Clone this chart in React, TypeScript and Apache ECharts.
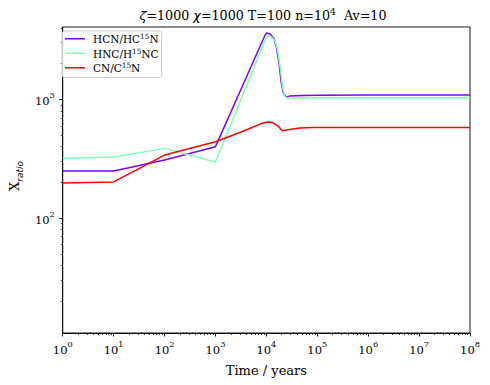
import React, { useEffect, useRef } from "react";
import * as echarts from "echarts";

// ---- data ----
const hcnTimes = [1, 10, 100, 1000, 9397, 10090, 12020, 14030, 15740, 17780, 19680, 21880, 24550, 28580, 51760, 1e5, 1e6, 1e7, 1e8];
const hcnValues = [250, 250, 309, 400, 3470, 3630, 3540, 3260, 2760, 2000, 1360, 1110, 1050, 1066, 1080, 1085, 1087, 1087, 1087];

const hncTimes = [1, 10, 100, 1000, 9772, 10720, 12590, 14790, 16600, 18620, 20650, 22910, 25700, 31620, 1e5, 1e6, 1e7, 1e8];
const hncValues = [319, 327, 387, 297, 3280, 3450, 3360, 3100, 2600, 1880, 1290, 1060, 1025, 1030, 1032, 1032, 1032, 1032];

const cnTimes = [1, 10, 100, 1000, 3573, 7516, 10090, 13580, 16980, 20420, 24550, 44670, 80720, 1e6, 1e7, 1e8];
const cnValues = [198, 202, 340, 440, 542, 620, 644, 635, 597, 545, 552, 574, 580, 580, 580, 580];

const seriesNames = ["HCN/HC15N", "HNC/H15NC", "CN/C15N"];
const seriesLegend = ["{n|HCN/HC}{s|15}{n|N}", "{n|HNC/H}{s|15}{n|NC}", "{n|CN/C}{s|15}{n|N}"];
const seriesColors = ["#8000ff", "#80ffb4", "#ff0000"];

const titleText = "{g|ζ}{t|=1000 }{g|χ}{t|=1000 T=100 n=10}{s|4}{t|  Av=10}";

const xMin = 1;
const xMax = 1e8;
const yMin = 10.8;
const yMax = 4070;
const xMajorExps = [0, 1, 2, 3, 4, 5, 6, 7, 8];
const yMajorExps = [2, 3];

const SERIF = "'DejaVu Serif', serif";
const SANS = "'DejaVu Sans', sans-serif";

const lg = (v: number) => Math.log10(v);

function minorTicks(lo: number, hi: number): number[] {
  const out: number[] = [];
  for (let e = Math.floor(lg(lo)) - 1; e <= Math.ceil(lg(hi)); e++) {
    for (let k = 2; k <= 9; k++) {
      const v = k * Math.pow(10, e);
      if (v > lo && v < hi) out.push(lg(v));
    }
  }
  return out;
}

const supRich = {
  b: { fontSize: 11.5, fontFamily: SERIF, fontWeight: "normal", color: "#000", padding: [4, 0, 0, 0], verticalAlign: "bottom" },
  s: { fontSize: 8.2, fontFamily: SERIF, fontWeight: "normal", color: "#000", verticalAlign: "top" },
};

export default function App() {
  const ref = useRef<HTMLDivElement>(null);
  useEffect(() => {
    if (!ref.current) return;
    const chart = echarts.init(ref.current, null, { renderer: "svg" });
    const all = [
      [hcnTimes, hcnValues],
      [hncTimes, hncValues],
      [cnTimes, cnValues],
    ];
    const xRange = [lg(xMin), lg(xMax)];
    const yRange = [lg(yMin), lg(yMax)];
    const option: any = {
      animation: false,
      backgroundColor: "#fff",
      graphic: [
        {
          type: "text",
          x: 263,
          y: 7,
          z: 100,
          style: {
            text: titleText,
            align: "center",
            verticalAlign: "top",
            rich: {
              t: { fontSize: 12.7, fontFamily: SERIF, fill: "#000", color: "#000", padding: [2, 0, 0, 0], verticalAlign: "bottom" },
              g: { fontSize: 12.7, fontFamily: SANS, fontStyle: "italic", fill: "#000", color: "#000", padding: [2, 0, 0, 0], verticalAlign: "bottom" },
              s: { fontSize: 9, fontFamily: SERIF, fill: "#000", color: "#000", verticalAlign: "top" },
            },
          },
        },
      ],
      grid: { left: 56, right: 20, top: 27, bottom: 52, show: true, borderColor: "#000", borderWidth: 0.9, backgroundColor: "transparent" },
      legend: {
        orient: "vertical",
        left: 62,
        top: 31,
        padding: [2, 3, 4, 3],
        icon: "rect",
        itemWidth: 20,
        itemHeight: 1.5,
        itemGap: 3,
        backgroundColor: "rgba(255,255,255,0.8)",
        borderColor: "#cccccc",
        borderWidth: 1,
        borderRadius: 3,
        data: seriesNames,
        formatter: (name: string) => seriesLegend[seriesNames.indexOf(name)],
        textStyle: {
          padding: [0, 0, 0, 3],
          rich: {
            n: { fontSize: 10.5, fontFamily: SERIF, color: "#000", padding: [0.5, 0, 0, 0], verticalAlign: "bottom" },
            s: { fontSize: 7.3, fontFamily: SERIF, color: "#000", verticalAlign: "top" },
          },
        },
      },
      xAxis: [
        {
          type: "value",
          min: xRange[0],
          max: xRange[1],
          name: "Time / years",
          nameLocation: "middle",
          nameGap: 31,
          nameTextStyle: { fontFamily: SERIF, fontSize: 13, color: "#000", verticalAlign: "top" },
          axisLine: { show: true, lineStyle: { color: "#000", width: 0.9 } },
          axisTick: { show: true, length: 3.5, lineStyle: { color: "#000", width: 0.9 }, customValues: xMajorExps },
          axisLabel: {
            margin: 7,
            customValues: xMajorExps,
            formatter: (v: number) => `{b|10}{s|${Math.round(v)}}`,
            rich: supRich,
            showMinLabel: true,
            showMaxLabel: true,
          },
          splitLine: { show: false },
        },
        {
          type: "value",
          min: xRange[0],
          max: xRange[1],
          position: "bottom",
          axisLine: { show: false },
          axisTick: { show: true, length: 2, lineStyle: { color: "#000", width: 0.7 }, customValues: minorTicks(xMin, xMax) },
          axisLabel: { show: false },
          splitLine: { show: false },
        },
      ],
      yAxis: [
        {
          type: "value",
          min: yRange[0],
          max: yRange[1],
          name: "{x|X}{r|ratio}",
          nameLocation: "middle",
          nameRotate: 90,
          nameGap: 36,
          nameTextStyle: {
            padding: [0, 0, 0, 8],
            rich: {
              x: { fontSize: 13, fontFamily: SERIF, color: "#000", padding: [0, 0, 3, 0], verticalAlign: "top" },
              r: { fontSize: 9, fontFamily: SANS, fontStyle: "italic", color: "#000", verticalAlign: "bottom" },
            },
          },
          axisLine: { show: true, lineStyle: { color: "#000", width: 0.9 } },
          axisTick: { show: true, length: 3.5, lineStyle: { color: "#000", width: 0.9 }, customValues: yMajorExps },
          axisLabel: {
            margin: 8,
            customValues: yMajorExps,
            formatter: (v: number) => `{b|10}{s|${Math.round(v)}}`,
            rich: supRich,
          },
          splitLine: { show: false },
        },
        {
          type: "value",
          min: yRange[0],
          max: yRange[1],
          position: "left",
          axisLine: { show: false },
          axisTick: { show: true, length: 2, lineStyle: { color: "#000", width: 0.7 }, customValues: minorTicks(yMin, yMax) },
          axisLabel: { show: false },
          splitLine: { show: false },
        },
      ],
      series: all.map(([ts, vs], i) => ({
        name: seriesNames[i],
        type: "line",
        xAxisIndex: 0,
        yAxisIndex: 0,
        symbol: "none",
        showSymbol: false,
        clip: true,
        color: seriesColors[i],
        itemStyle: { color: seriesColors[i] },
        lineStyle: { color: seriesColors[i], width: 1.5 },
        data: (ts as number[]).map((t, j) => [lg(t), lg((vs as number[])[j])]),
      })),
    };
    chart.setOption(option);
    return () => chart.dispose();
  }, []);
  return <div ref={ref} style={{ position: "absolute", left: 0, top: 0, width: 490, height: 385 }} />;
}
